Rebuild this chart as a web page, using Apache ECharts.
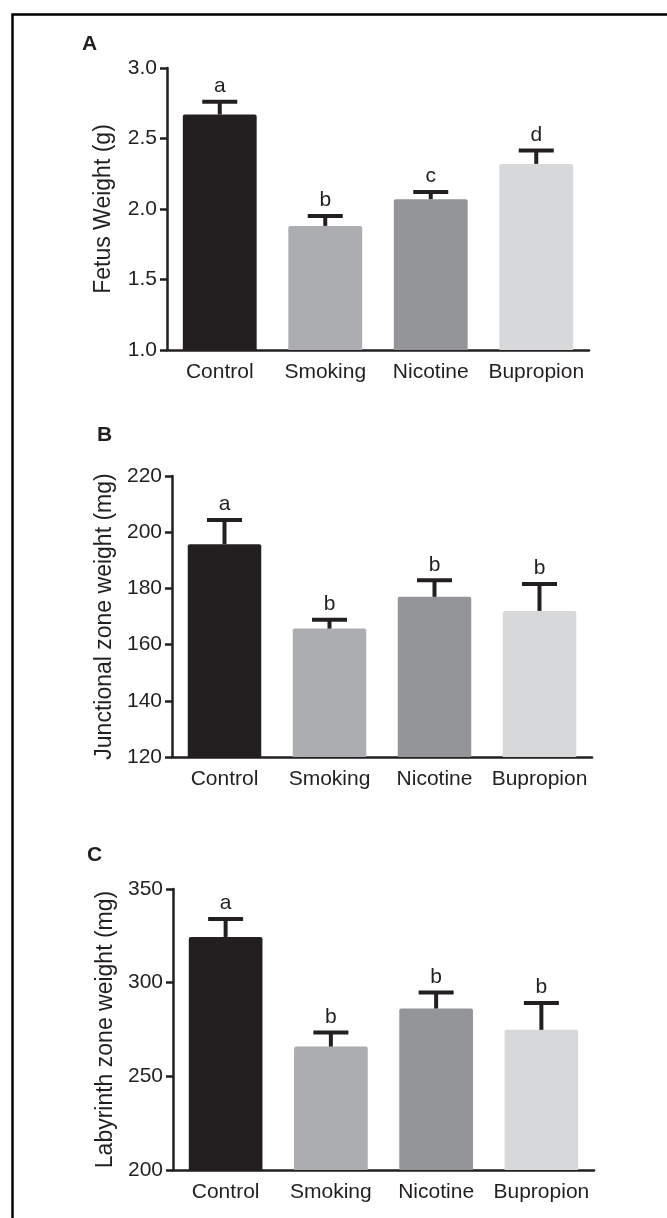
<!DOCTYPE html>
<html>
<head>
<meta charset="utf-8">
<script src="https://cdn.jsdelivr.net/npm/echarts@6/dist/echarts.min.js"></script>
<style>
html,body{margin:0;padding:0;background:#fff;}
#chart{width:667px;height:1218px;}
</style>
</head>
<body>
<div id="chart"></div>
<script>
var categories = ['Control', 'Smoking', 'Nicotine', 'Bupropion'];
var barColors = ['#231f20', '#abadb0', '#939598', '#d7d8da'];

var fetusMean = [2.67, 1.88, 2.07, 2.32];
var fetusErr = [0.09, 0.07, 0.05, 0.095];
var fetusLetters = ['a', 'b', 'c', 'd'];

var junctionalMean = [195.7, 165.7, 177.0, 172.0];
var junctionalErr = [8.6, 3.1, 5.9, 9.6];
var junctionalLetters = ['a', 'b', 'b', 'b'];

var labyrinthMean = [324.4, 265.9, 286.2, 274.8];
var labyrinthErr = [9.6, 7.5, 8.5, 14.4];
var labyrinthLetters = ['a', 'b', 'b', 'b'];

var fetusTicks = {min: 1.0, max: 3.0, interval: 0.5, digits: 1};
var junctionalTicks = {min: 120, max: 220, interval: 20, digits: 0};
var labyrinthTicks = {min: 200, max: 350, interval: 50, digits: 0};

var ink = '#231f20';
var FONT = 'Liberation Sans, Arial, sans-serif';

var panels = [
  {label: 'A', title: 'Fetus Weight (g)', mean: fetusMean, err: fetusErr, letters: fetusLetters, ticks: fetusTicks,
   grid: {left: 167, top: 68, width: 422, height: 282}, labelPos: [82, 34]},
  {label: 'B', title: 'Junctional zone weight (mg)', mean: junctionalMean, err: junctionalErr, letters: junctionalLetters, ticks: junctionalTicks,
   grid: {left: 172, top: 476, width: 420, height: 281}, labelPos: [97, 425]},
  {label: 'C', title: 'Labyrinth zone weight (mg)', mean: labyrinthMean, err: labyrinthErr, letters: labyrinthLetters, ticks: labyrinthTicks,
   grid: {left: 173, top: 889, width: 421, height: 281}, labelPos: [87, 845]}
];

var grids = [], xAxes = [], yAxes = [], series = [], graphics = [];

graphics.push({
  type: 'rect', left: 10, top: 12, z: 100,
  shape: {x: 0, y: 0, width: 700, height: 1260},
  style: {fill: 'none', stroke: '#000', lineWidth: 2.5}
});

panels.forEach(function (p, gi) {
  grids.push(p.grid);
  xAxes.push({
    type: 'category', gridIndex: gi, data: categories,
    axisLine: {show: true, lineStyle: {color: ink, width: 2.5}},
    axisTick: {show: false},
    axisLabel: {color: ink, fontSize: 21, fontFamily: FONT, margin: 12, interval: 0}
  });
  yAxes.push({
    type: 'value', gridIndex: gi,
    min: p.ticks.min, max: p.ticks.max, interval: p.ticks.interval,
    splitLine: {show: false},
    axisLine: {show: true, lineStyle: {color: ink, width: 2.5}},
    axisTick: {show: true, length: 7, lineStyle: {color: ink, width: 2.5}},
    axisLabel: {color: ink, fontSize: 21, fontFamily: FONT, margin: 10,
      formatter: (function (d) { return function (v) { return v.toFixed(d); }; })(p.ticks.digits)},
    name: p.title, nameLocation: 'middle', nameGap: 52, nameRotate: 90,
    nameTextStyle: {color: ink, fontSize: 23, fontFamily: FONT}
  });
  series.push({
    type: 'bar', xAxisIndex: gi, yAxisIndex: gi, barWidth: '70%', clip: true,
    data: p.mean.map(function (v, i) {
      return {value: v, itemStyle: {color: barColors[i], borderRadius: [2, 2, 0, 0]}};
    }),
    z: 2
  });
  series.push({
    type: 'custom', xAxisIndex: gi, yAxisIndex: gi, z: 3,
    data: p.mean.map(function (v, i) { return [i, v, v + p.err[i]]; }),
    renderItem: function (params, api) {
      var base = api.coord([api.value(0), api.value(1)]);
      var top = api.coord([api.value(0), api.value(2)]);
      var half = 17.5;
      return {
        type: 'group',
        children: [
          {type: 'line', shape: {x1: base[0], y1: base[1], x2: top[0], y2: top[1]},
           style: {stroke: ink, lineWidth: 4}},
          {type: 'line', shape: {x1: top[0] - half, y1: top[1], x2: top[0] + half, y2: top[1]},
           style: {stroke: ink, lineWidth: 4}},
          {type: 'text', x: top[0], y: top[1] - 5,
           style: {text: p.letters[params.dataIndex], fill: ink, font: '21px ' + FONT,
                   align: 'center', verticalAlign: 'bottom'}}
        ]
      };
    }
  });
  graphics.push({
    type: 'text', left: p.labelPos[0], top: p.labelPos[1],
    style: {text: p.label, fill: ink, font: 'bold 21px ' + FONT}
  });
});

var chart = echarts.init(document.getElementById('chart'));
chart.setOption({
  animation: false,
  backgroundColor: '#fff',
  grid: grids,
  xAxis: xAxes,
  yAxis: yAxes,
  series: series,
  graphic: graphics
});
</script>
</body>
</html>
